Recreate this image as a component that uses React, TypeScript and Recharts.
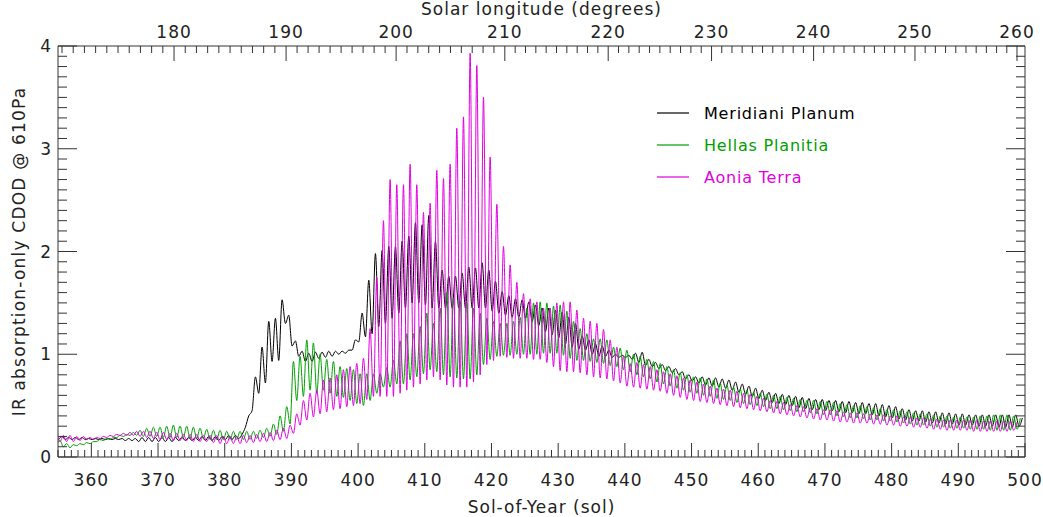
import React from 'react';
import { LineChart, Line, XAxis, YAxis, Legend } from 'recharts';

const FONT = '"DejaVu Sans", sans-serif';
const AXIS_COLOR = '#333';
const TEXT_COLOR = '#222';

// Sol-of-year for each daily cycle
const SOLS = [
  355, 356, 357, 358, 359, 360, 361, 362, 363, 364,
  365, 366, 367, 368, 369, 370, 371, 372, 373, 374,
  375, 376, 377, 378, 379, 380, 381, 382, 383, 384,
  385, 386, 387, 388, 389, 390, 391, 392, 393, 394,
  395, 396, 397, 398, 399, 400, 401, 402, 403, 404,
  405, 406, 407, 408, 409, 410, 411, 412, 413, 414,
  415, 416, 417, 418, 419, 420, 421, 422, 423, 424,
  425, 426, 427, 428, 429, 430, 431, 432, 433, 434,
  435, 436, 437, 438, 439, 440, 441, 442, 443, 444,
  445, 446, 447, 448, 449, 450, 451, 452, 453, 454,
  455, 456, 457, 458, 459, 460, 461, 462, 463, 464,
  465, 466, 467, 468, 469, 470, 471, 472, 473, 474,
  475, 476, 477, 478, 479, 480, 481, 482, 483, 484,
  485, 486, 487, 488, 489, 490, 491, 492, 493, 494,
  495, 496, 497, 498, 499,
];

// Meridiani Planum: daily maximum / minimum
const MERIDIANI_HI = [
  0.20, 0.19, 0.19, 0.19, 0.18, 0.18, 0.18, 0.18, 0.18, 0.18,
  0.18, 0.18, 0.19, 0.19, 0.19, 0.19, 0.19, 0.19, 0.19, 0.19,
  0.19, 0.20, 0.20, 0.20, 0.20, 0.21, 0.21, 0.22, 0.40, 0.78,
  1.07, 1.32, 1.35, 1.53, 1.38, 1.13, 1.03, 1.01, 1.02, 1.02,
  1.03, 1.03, 1.03, 1.04, 1.14, 1.40, 1.72, 1.98, 2.01, 2.05,
  2.05, 2.10, 2.15, 2.28, 2.26, 2.35, 2.10, 1.82, 1.76, 1.76,
  1.79, 1.85, 1.84, 1.89, 1.82, 1.71, 1.61, 1.57, 1.54, 1.53,
  1.51, 1.48, 1.45, 1.45, 1.43, 1.41, 1.36, 1.30, 1.18, 1.14,
  1.10, 1.08, 1.04, 1.00, 0.99, 0.99, 1.01, 1.02, 0.95, 0.92,
  0.90, 0.88, 0.86, 0.83, 0.80, 0.78, 0.78, 0.77, 0.77, 0.76,
  0.75, 0.73, 0.71, 0.69, 0.67, 0.65, 0.63, 0.62, 0.61, 0.60,
  0.59, 0.58, 0.57, 0.56, 0.56, 0.55, 0.55, 0.54, 0.54, 0.53,
  0.53, 0.52, 0.52, 0.51, 0.50, 0.49, 0.47, 0.46, 0.45, 0.45,
  0.44, 0.44, 0.43, 0.43, 0.42, 0.42, 0.41, 0.41, 0.41, 0.41,
  0.41, 0.41, 0.41, 0.41, 0.38,
];
const MERIDIANI_LO = [
  0.17, 0.17, 0.17, 0.17, 0.17, 0.17, 0.17, 0.17, 0.17, 0.17,
  0.16, 0.16, 0.15, 0.15, 0.15, 0.15, 0.15, 0.15, 0.16, 0.16,
  0.16, 0.16, 0.16, 0.16, 0.16, 0.17, 0.17, 0.18, 0.29, 0.45,
  0.62, 0.72, 0.93, 0.94, 1.30, 1.08, 0.98, 0.93, 0.93, 0.96,
  0.97, 0.98, 1.00, 1.01, 1.04, 1.12, 1.17, 1.20, 1.27, 1.30,
  1.35, 1.40, 1.45, 1.50, 1.50, 1.48, 1.45, 1.45, 1.45, 1.45,
  1.45, 1.45, 1.45, 1.45, 1.45, 1.42, 1.40, 1.38, 1.36, 1.36,
  1.35, 1.32, 1.28, 1.22, 1.19, 1.16, 1.10, 1.07, 1.05, 1.04,
  1.00, 0.98, 0.98, 0.97, 0.97, 0.97, 0.95, 0.92, 0.89, 0.88,
  0.86, 0.84, 0.82, 0.80, 0.76, 0.74, 0.72, 0.70, 0.69, 0.68,
  0.67, 0.65, 0.63, 0.61, 0.59, 0.57, 0.55, 0.53, 0.52, 0.51,
  0.50, 0.48, 0.47, 0.46, 0.46, 0.45, 0.45, 0.44, 0.43, 0.43,
  0.42, 0.42, 0.41, 0.40, 0.39, 0.38, 0.37, 0.36, 0.35, 0.35,
  0.34, 0.33, 0.33, 0.32, 0.32, 0.31, 0.31, 0.31, 0.30, 0.30,
  0.30, 0.29, 0.29, 0.29, 0.30,
];

// Hellas Planitia: daily maximum / minimum
const HELLAS_HI = [
  0.16, 0.13, 0.12, 0.13, 0.14, 0.15, 0.17, 0.18, 0.19, 0.21,
  0.22, 0.24, 0.26, 0.28, 0.29, 0.29, 0.30, 0.31, 0.30, 0.30,
  0.29, 0.28, 0.27, 0.26, 0.26, 0.25, 0.25, 0.25, 0.25, 0.25,
  0.26, 0.28, 0.32, 0.40, 0.49, 0.93, 0.98, 1.14, 1.11, 1.00,
  0.95, 0.93, 0.88, 0.86, 0.85, 0.81, 0.81, 0.81, 0.81, 0.87,
  0.94, 1.13, 1.20, 1.20, 1.27, 1.40, 1.30, 1.45, 1.60, 1.55,
  1.52, 1.50, 1.45, 1.40, 1.35, 1.32, 1.30, 1.30, 1.32, 1.36,
  1.45, 1.50, 1.51, 1.50, 1.47, 1.48, 1.42, 1.32, 1.25, 1.20,
  1.15, 1.15, 1.14, 1.07, 1.06, 1.04, 1.00, 0.98, 0.95, 0.93,
  0.91, 0.88, 0.85, 0.82, 0.80, 0.78, 0.77, 0.76, 0.75, 0.72,
  0.70, 0.68, 0.66, 0.65, 0.63, 0.62, 0.61, 0.60, 0.59, 0.58,
  0.57, 0.56, 0.55, 0.55, 0.54, 0.54, 0.53, 0.52, 0.51, 0.50,
  0.50, 0.49, 0.48, 0.47, 0.46, 0.46, 0.45, 0.44, 0.43, 0.42,
  0.42, 0.41, 0.40, 0.40, 0.39, 0.39, 0.39, 0.39, 0.40, 0.40,
  0.41, 0.41, 0.41, 0.40, 0.38,
];
const HELLAS_LO = [
  0.12, 0.10, 0.09, 0.11, 0.12, 0.13, 0.15, 0.16, 0.17, 0.19,
  0.20, 0.21, 0.21, 0.20, 0.20, 0.20, 0.19, 0.19, 0.19, 0.19,
  0.18, 0.18, 0.18, 0.17, 0.17, 0.17, 0.17, 0.17, 0.17, 0.17,
  0.18, 0.19, 0.20, 0.22, 0.25, 0.32, 0.55, 0.59, 0.65, 0.62,
  0.65, 0.62, 0.59, 0.58, 0.55, 0.52, 0.50, 0.55, 0.62, 0.68,
  0.68, 0.71, 0.71, 0.75, 0.78, 0.81, 0.85, 0.83, 0.80, 0.78,
  0.77, 0.76, 0.76, 0.80, 0.90, 0.95, 0.98, 0.99, 0.99, 1.00,
  1.00, 1.00, 1.00, 1.01, 1.01, 1.01, 0.99, 0.96, 0.94, 0.94,
  0.93, 0.92, 0.91, 0.89, 0.88, 0.85, 0.83, 0.80, 0.78, 0.76,
  0.73, 0.71, 0.69, 0.67, 0.65, 0.63, 0.62, 0.60, 0.59, 0.57,
  0.56, 0.55, 0.53, 0.52, 0.51, 0.50, 0.49, 0.47, 0.47, 0.46,
  0.45, 0.44, 0.44, 0.43, 0.42, 0.41, 0.41, 0.40, 0.39, 0.38,
  0.38, 0.37, 0.36, 0.36, 0.35, 0.35, 0.34, 0.33, 0.32, 0.31,
  0.31, 0.30, 0.29, 0.29, 0.28, 0.28, 0.28, 0.27, 0.27, 0.27,
  0.26, 0.26, 0.26, 0.26, 0.27,
];

// Aonia Terra: daily maximum / minimum
const AONIA_HI = [
  0.21, 0.21, 0.21, 0.20, 0.20, 0.19, 0.19, 0.20, 0.21, 0.22,
  0.23, 0.24, 0.25, 0.25, 0.25, 0.24, 0.24, 0.23, 0.23, 0.22,
  0.22, 0.22, 0.21, 0.21, 0.21, 0.20, 0.20, 0.20, 0.21, 0.21,
  0.22, 0.23, 0.24, 0.26, 0.28, 0.31, 0.42, 0.55, 0.62, 0.65,
  0.75, 0.77, 0.80, 0.85, 0.88, 0.91, 0.96, 1.25, 1.75, 2.30,
  2.70, 2.65, 2.65, 2.85, 2.65, 2.38, 2.47, 2.79, 2.71, 2.85,
  3.20, 3.31, 3.93, 3.81, 3.50, 2.92, 2.46, 2.05, 1.87, 1.70,
  1.59, 1.54, 1.51, 1.45, 1.45, 1.50, 1.51, 1.51, 1.43, 1.35,
  1.32, 1.30, 1.24, 1.14, 1.07, 0.98, 0.91, 0.92, 0.90, 0.88,
  0.85, 0.83, 0.81, 0.79, 0.77, 0.75, 0.73, 0.71, 0.69, 0.67,
  0.66, 0.65, 0.64, 0.62, 0.61, 0.59, 0.57, 0.55, 0.54, 0.53,
  0.51, 0.50, 0.49, 0.48, 0.47, 0.46, 0.46, 0.45, 0.44, 0.43,
  0.43, 0.42, 0.42, 0.41, 0.41, 0.40, 0.40, 0.39, 0.39, 0.38,
  0.38, 0.37, 0.37, 0.36, 0.36, 0.36, 0.36, 0.36, 0.36, 0.35,
  0.35, 0.35, 0.35, 0.35, 0.34,
];
const AONIA_LO = [
  0.15, 0.15, 0.15, 0.15, 0.16, 0.17, 0.17, 0.18, 0.19, 0.20,
  0.21, 0.21, 0.21, 0.20, 0.19, 0.18, 0.17, 0.17, 0.16, 0.16,
  0.16, 0.15, 0.15, 0.15, 0.14, 0.13, 0.13, 0.13, 0.13, 0.14,
  0.14, 0.15, 0.15, 0.16, 0.17, 0.18, 0.23, 0.31, 0.36, 0.39,
  0.42, 0.44, 0.46, 0.47, 0.49, 0.50, 0.52, 0.56, 0.59, 0.59,
  0.59, 0.59, 0.62, 0.65, 0.68, 0.71, 0.75, 0.78, 0.75, 0.70,
  0.68, 0.68, 0.68, 0.73, 0.80, 0.90, 0.94, 0.98, 0.97, 0.96,
  0.96, 0.96, 0.95, 0.95, 0.92, 0.88, 0.84, 0.83, 0.83, 0.82,
  0.80, 0.78, 0.77, 0.76, 0.74, 0.72, 0.69, 0.68, 0.67, 0.66,
  0.65, 0.64, 0.62, 0.60, 0.58, 0.56, 0.55, 0.54, 0.53, 0.52,
  0.51, 0.50, 0.49, 0.48, 0.47, 0.46, 0.45, 0.44, 0.43, 0.42,
  0.41, 0.40, 0.39, 0.38, 0.37, 0.36, 0.36, 0.35, 0.34, 0.34,
  0.33, 0.33, 0.33, 0.32, 0.32, 0.31, 0.31, 0.30, 0.30, 0.29,
  0.29, 0.28, 0.27, 0.27, 0.26, 0.26, 0.26, 0.26, 0.25, 0.25,
  0.25, 0.25, 0.25, 0.25, 0.26,
];

// Local time offset (in sol) of the daily max / min for each site
const PHASES = {
  meridiani: { hi: 0.6, lo: 0.1 },
  hellas: { hi: 0.3, lo: -0.2 },
  aonia: { hi: -0.2, lo: -0.7 },
};

// Axis ticks
const X_DOMAIN = [355, 500];
const Y_DOMAIN = [0, 4];
const X_MAJOR_TICKS = [360, 370, 380, 390, 400, 410, 420, 430, 440, 450, 460, 470, 480, 490, 500];
const Y_MAJOR_TICKS = [0, 1, 2, 3, 4];
const LS_MAJOR = [180, 190, 200, 210, 220, 230, 240, 250, 260];
const LS_MAJOR_SOL = [372.4, 389.2, 405.7, 422.0, 437.5, 453.0, 468.3, 483.5, 498.8];

function buildSeries(hi: number[], lo: number[], ph: { hi: number; lo: number }) {
  const pts: { x: number; y: number }[] = [];
  SOLS.forEach((s, i) => {
    const a = { x: s + ph.lo, y: lo[i] };
    const b = { x: s + ph.hi, y: hi[i] };
    if (ph.lo < ph.hi) pts.push(a, b);
    else pts.push(b, a);
  });
  return pts;
}

const meridianiData = buildSeries(MERIDIANI_HI, MERIDIANI_LO, PHASES.meridiani);
const hellasData = buildSeries(HELLAS_HI, HELLAS_LO, PHASES.hellas);
const aoniaData = buildSeries(AONIA_HI, AONIA_LO, PHASES.aonia);

const SERIES = [
  { name: 'Meridiani Planum', color: '#000000', data: meridianiData },
  { name: 'Hellas Planitia', color: '#00a000', data: hellasData },
  { name: 'Aonia Terra', color: '#e000e0', data: aoniaData },
];

// minor tick layouts
const xTicks: number[] = [];
for (let s = X_DOMAIN[0]; s <= X_DOMAIN[1]; s++) xTicks.push(s);
const yTicks: number[] = [];
for (let i = 0; i <= 40; i++) yTicks.push(i / 10);

// Ls tick positions (in sol) at every degree, placed between labelled majors
const lsTicks: { sol: number; ls: number }[] = [];
for (let ls = 170; ls <= 260; ls++) {
  let k = Math.floor((ls - LS_MAJOR[0]) / 10);
  if (k < 0) k = 0;
  if (k > LS_MAJOR.length - 2) k = LS_MAJOR.length - 2;
  const f = (ls - LS_MAJOR[k]) / 10;
  const sol = LS_MAJOR_SOL[k] + f * (LS_MAJOR_SOL[k + 1] - LS_MAJOR_SOL[k]);
  lsTicks.push({ sol: Math.round(sol * 1000) / 1000, ls });
}
// helper series so the top (Ls) axis has data on its own scale
const topAxisData = [
  { x: X_DOMAIN[0], y: Y_DOMAIN[0] },
  { x: X_DOMAIN[1], y: Y_DOMAIN[0] },
];

const textStyle = { fontFamily: FONT, fontSize: 17, fill: TEXT_COLOR, letterSpacing: '1px' };

const BottomTick = (props: any) => {
  const { x, y, payload } = props;
  const v = payload.value;
  const major = X_MAJOR_TICKS.includes(v);
  return (
    <g>
      <line x1={x} x2={x} y1={y} y2={y - (major ? 14 : 7)} stroke={AXIS_COLOR} strokeWidth={1} />
      {major && (
        <text x={x} y={y + 29} textAnchor="middle" style={textStyle}>
          {v}
        </text>
      )}
    </g>
  );
};

const TopTick = (props: any) => {
  const { x, y, payload } = props;
  let best = lsTicks[0];
  for (const t of lsTicks) if (Math.abs(t.sol - payload.value) < Math.abs(best.sol - payload.value)) best = t;
  const major = LS_MAJOR.includes(best.ls);
  return (
    <g>
      <line x1={x} x2={x} y1={y} y2={y + (major ? 15 : 7)} stroke={AXIS_COLOR} strokeWidth={1} />
      {major && (
        <text x={x} y={y - 8} textAnchor="middle" style={textStyle}>
          {best.ls}
        </text>
      )}
    </g>
  );
};

const LeftTick = (props: any) => {
  const { x, y, payload } = props;
  const v = payload.value;
  const major = Y_MAJOR_TICKS.some((m) => Math.abs(m - v) < 1e-6);
  return (
    <g>
      <line x1={x} x2={x + (major ? 19 : 9)} y1={y} y2={y} stroke={AXIS_COLOR} strokeWidth={1} />
      {major && (
        <text x={x - 6} y={y} dy="0.36em" textAnchor="end" style={textStyle}>
          {Math.round(v)}
        </text>
      )}
    </g>
  );
};

const RightTick = (props: any) => {
  const { x, y, payload } = props;
  const v = payload.value;
  const major = Y_MAJOR_TICKS.some((m) => Math.abs(m - v) < 1e-6);
  return (
    <g>
      <line x1={x} x2={x - (major ? 19 : 9)} y1={y} y2={y} stroke={AXIS_COLOR} strokeWidth={1} />
    </g>
  );
};

const LegendContent = () => (
  <div style={{ position: 'relative', width: 250, height: 90, fontFamily: FONT, fontSize: 16 }}>
    {SERIES.map((s, i) => (
      <div
        key={s.name}
        style={{ position: 'absolute', left: 0, top: i * 32, height: 20, display: 'flex', alignItems: 'center', whiteSpace: 'nowrap' }}
      >
        <svg width={34} height={20} style={{ display: 'block' }}>
          <line x1={1} x2={33} y1={10} y2={10} stroke={s.color} strokeWidth={1.2} />
        </svg>
        <span style={{ marginLeft: 14, color: s.color, letterSpacing: '0.8px' }}>{s.name}</span>
      </div>
    ))}
  </div>
);

export default function App() {
  return (
    <div style={{ position: 'absolute', left: 0, top: 0, width: 1043, height: 517, background: '#fff' }}>
      <LineChart width={1043} height={517} margin={{ top: 0, right: 0, bottom: 0, left: 0 }}>
        <XAxis
          xAxisId="bottom"
          type="number"
          dataKey="x"
          domain={X_DOMAIN}
          allowDataOverflow
          ticks={xTicks}
          interval={0}
          tickSize={0}
          tickMargin={0}
          tickLine={false}
          tick={BottomTick}
          height={60}
          axisLine={{ stroke: AXIS_COLOR }}
          label={{ value: 'Sol-of-Year (sol)', position: 'insideBottom', offset: 4, style: textStyle }}
        />
        <XAxis
          xAxisId="top"
          orientation="top"
          type="number"
          dataKey="x"
          domain={X_DOMAIN}
          allowDataOverflow
          ticks={lsTicks.map((t) => t.sol)}
          interval={0}
          tickSize={0}
          tickMargin={0}
          tickLine={false}
          tick={TopTick}
          height={46}
          axisLine={{ stroke: AXIS_COLOR }}
          label={{ value: 'Solar longitude (degrees)', position: 'insideTop', offset: 3, style: textStyle }}
        />
        <YAxis
          yAxisId="left"
          type="number"
          domain={Y_DOMAIN}
          allowDataOverflow
          ticks={yTicks}
          interval={0}
          tickSize={0}
          tickMargin={0}
          tickLine={false}
          tick={LeftTick}
          width={58}
          axisLine={{ stroke: AXIS_COLOR }}
          label={{
            value: 'IR absorption-only CDOD @ 610Pa',
            angle: -90,
            position: 'insideLeft',
            offset: 19,
            style: { ...textStyle, letterSpacing: '1.2px', textAnchor: 'middle' },
          }}
        />
        <YAxis
          yAxisId="right"
          orientation="right"
          type="number"
          domain={Y_DOMAIN}
          allowDataOverflow
          ticks={yTicks}
          interval={0}
          tickSize={0}
          tickMargin={0}
          tickLine={false}
          tick={RightTick}
          width={18}
          axisLine={{ stroke: AXIS_COLOR }}
        />
        <Line
          xAxisId="top"
          yAxisId="right"
          data={topAxisData}
          dataKey="y"
          stroke="none"
          strokeWidth={0}
          dot={false}
          activeDot={false}
          legendType="none"
          isAnimationActive={false}
        />
        {SERIES.map((s) => (
          <Line
            key={s.name}
            xAxisId="bottom"
            yAxisId="left"
            data={s.data}
            dataKey="y"
            name={s.name}
            type="monotone"
            stroke={s.color}
            strokeWidth={1}
            dot={false}
            activeDot={false}
            isAnimationActive={false}
          />
        ))}
        <Legend
          layout="vertical"
          verticalAlign="middle"
          align="center"
          content={LegendContent}
          wrapperStyle={{ left: 656, top: 103, width: 250, height: 90 }}
        />
      </LineChart>
    </div>
  );
}
